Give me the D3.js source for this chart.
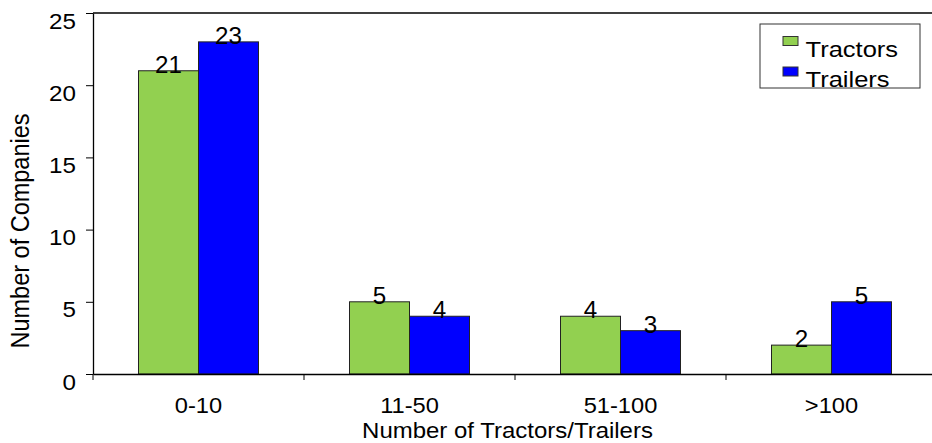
<!DOCTYPE html>
<html>
<head>
<meta charset="utf-8">
<script src="https://cdn.jsdelivr.net/npm/d3@7"></script>
<style>
  body { margin: 0; background: #fff; }
  text { font-family: "Liberation Sans", Arial, sans-serif; fill: #000; }
</style>
</head>
<body>
<div id="chart"></div>
<script>
// chart data
var categories = ["0-10", "11-50", "51-100", ">100"];
var seriesNames = ["Tractors", "Trailers"];
var tractors = [21, 5, 4, 2];
var trailers = [23, 4, 3, 5];
var yTicks = [0, 5, 10, 15, 20, 25];
var colors = ["#92d050", "#0000ff"];

(function() {
  var width = 932,
      height = 443;
  var margin = {top: 13, left: 93};
  var plotW = 844,
      plotH = 361;
  // the text in the original is a bit wider than plain Arial
  var stretch = 1.1;

  var svg = d3.select("#chart")
    .append("svg")
    .attr("width", width)
    .attr("height", height);

  var g = svg.append("g")
    .attr("transform", "translate(" + margin.left + "," + margin.top + ")");

  var x0 = d3.scaleBand().domain(categories).range([0, plotW]);
  var x1 = d3.scaleBand().domain(seriesNames).range([45.5, 165.5]);
  var y = d3.scaleLinear().domain([0, 25]).range([plotH, 0]);

  var rows = categories.map(function(c, i) {
    return {cat: c, values: [
      {name: seriesNames[0], value: tractors[i], color: colors[0]},
      {name: seriesNames[1], value: trailers[i], color: colors[1]}
    ]};
  });

  // top border of the plot area
  g.append("line")
    .attr("x1", 0).attr("x2", width - margin.left)
    .attr("y1", 0).attr("y2", 0)
    .attr("stroke", "#000").attr("stroke-width", 1.3);

  // bars
  var groups = g.selectAll(".grp")
    .data(rows)
    .enter().append("g")
    .attr("class", "grp")
    .attr("transform", function(d) { return "translate(" + x0(d.cat) + ",0)"; });

  groups.selectAll("rect")
    .data(function(d) { return d.values; })
    .enter().append("rect")
    .attr("x", function(d) { return x1(d.name); })
    .attr("width", x1.bandwidth())
    .attr("y", function(d) { return y(d.value); })
    .attr("height", function(d) { return plotH - y(d.value); })
    .attr("fill", function(d) { return d.color; })
    .attr("stroke", "#222")
    .attr("stroke-width", 1);

  groups.selectAll(".lbl")
    .data(function(d) { return d.values; })
    .enter().append("text")
    .attr("class", "lbl")
    .attr("transform", function(d) {
      return "translate(" + (x1(d.name) + x1.bandwidth() / 2) + "," + (y(d.value) + 2) + ") scale(1.05,1)";
    })
    .attr("text-anchor", "middle")
    .style("font-size", "23px")
    .text(function(d) { return d.value; });

  // y axis
  var yAxis = g.append("g")
    .call(d3.axisLeft(y).tickValues(yTicks).tickSize(7).tickSizeOuter(0));
  yAxis.select(".domain").attr("stroke-width", 1.3);
  yAxis.selectAll(".tick text")
    .attr("x", null).attr("dy", null).attr("y", null)
    .attr("transform", "translate(-17,15) scale(" + stretch + ",1)")
    .style("font-size", "22px");

  // x axis
  var xAxis = g.append("g")
    .attr("transform", "translate(0," + plotH + ")")
    .call(d3.axisBottom(x0).tickSize(0).tickSizeOuter(0));
  xAxis.select(".domain").attr("stroke-width", 1.3);
  xAxis.selectAll(".tick text")
    .attr("y", null).attr("dy", null)
    .attr("transform", "translate(0,38.5) scale(" + stretch + ",1)")
    .style("font-size", "21.5px");

  // tick marks between categories
  xAxis.selectAll(".sep")
    .data(categories)
    .enter().append("line")
    .attr("class", "sep")
    .attr("x1", function(d) { return x0(d); })
    .attr("x2", function(d) { return x0(d); })
    .attr("y1", 0).attr("y2", 6)
    .attr("stroke", "#000");

  // axis titles
  svg.append("text")
    .attr("transform", "translate(507.5,437.5) scale(" + stretch + ",1)")
    .attr("text-anchor", "middle")
    .style("font-size", "21.8px")
    .text("Number of Tractors/Trailers");

  svg.append("text")
    .attr("transform", "translate(29,231) rotate(-90) scale(1,1.1)")
    .attr("text-anchor", "middle")
    .style("font-size", "23.5px")
    .text("Number of Companies");

  // legend
  var legend = svg.append("g").attr("transform", "translate(760,24)");
  legend.append("rect")
    .attr("width", 160).attr("height", 64)
    .attr("fill", "#fff")
    .attr("stroke", "#333").attr("stroke-width", 1);

  var items = legend.selectAll(".item")
    .data(seriesNames)
    .enter().append("g")
    .attr("class", "item")
    .attr("transform", function(d, i) { return "translate(0," + (i * 30.5) + ")"; });

  items.append("rect")
    .attr("x", 23).attr("y", 12.5)
    .attr("width", 15).attr("height", 9)
    .attr("fill", function(d, i) { return colors[i]; })
    .attr("stroke", "#333");

  items.append("text")
    .attr("transform", "translate(45.5,32.5) scale(1.16,1)")
    .style("font-size", "22px")
    .text(function(d) { return d; });
})();
</script>
</body>
</html>
